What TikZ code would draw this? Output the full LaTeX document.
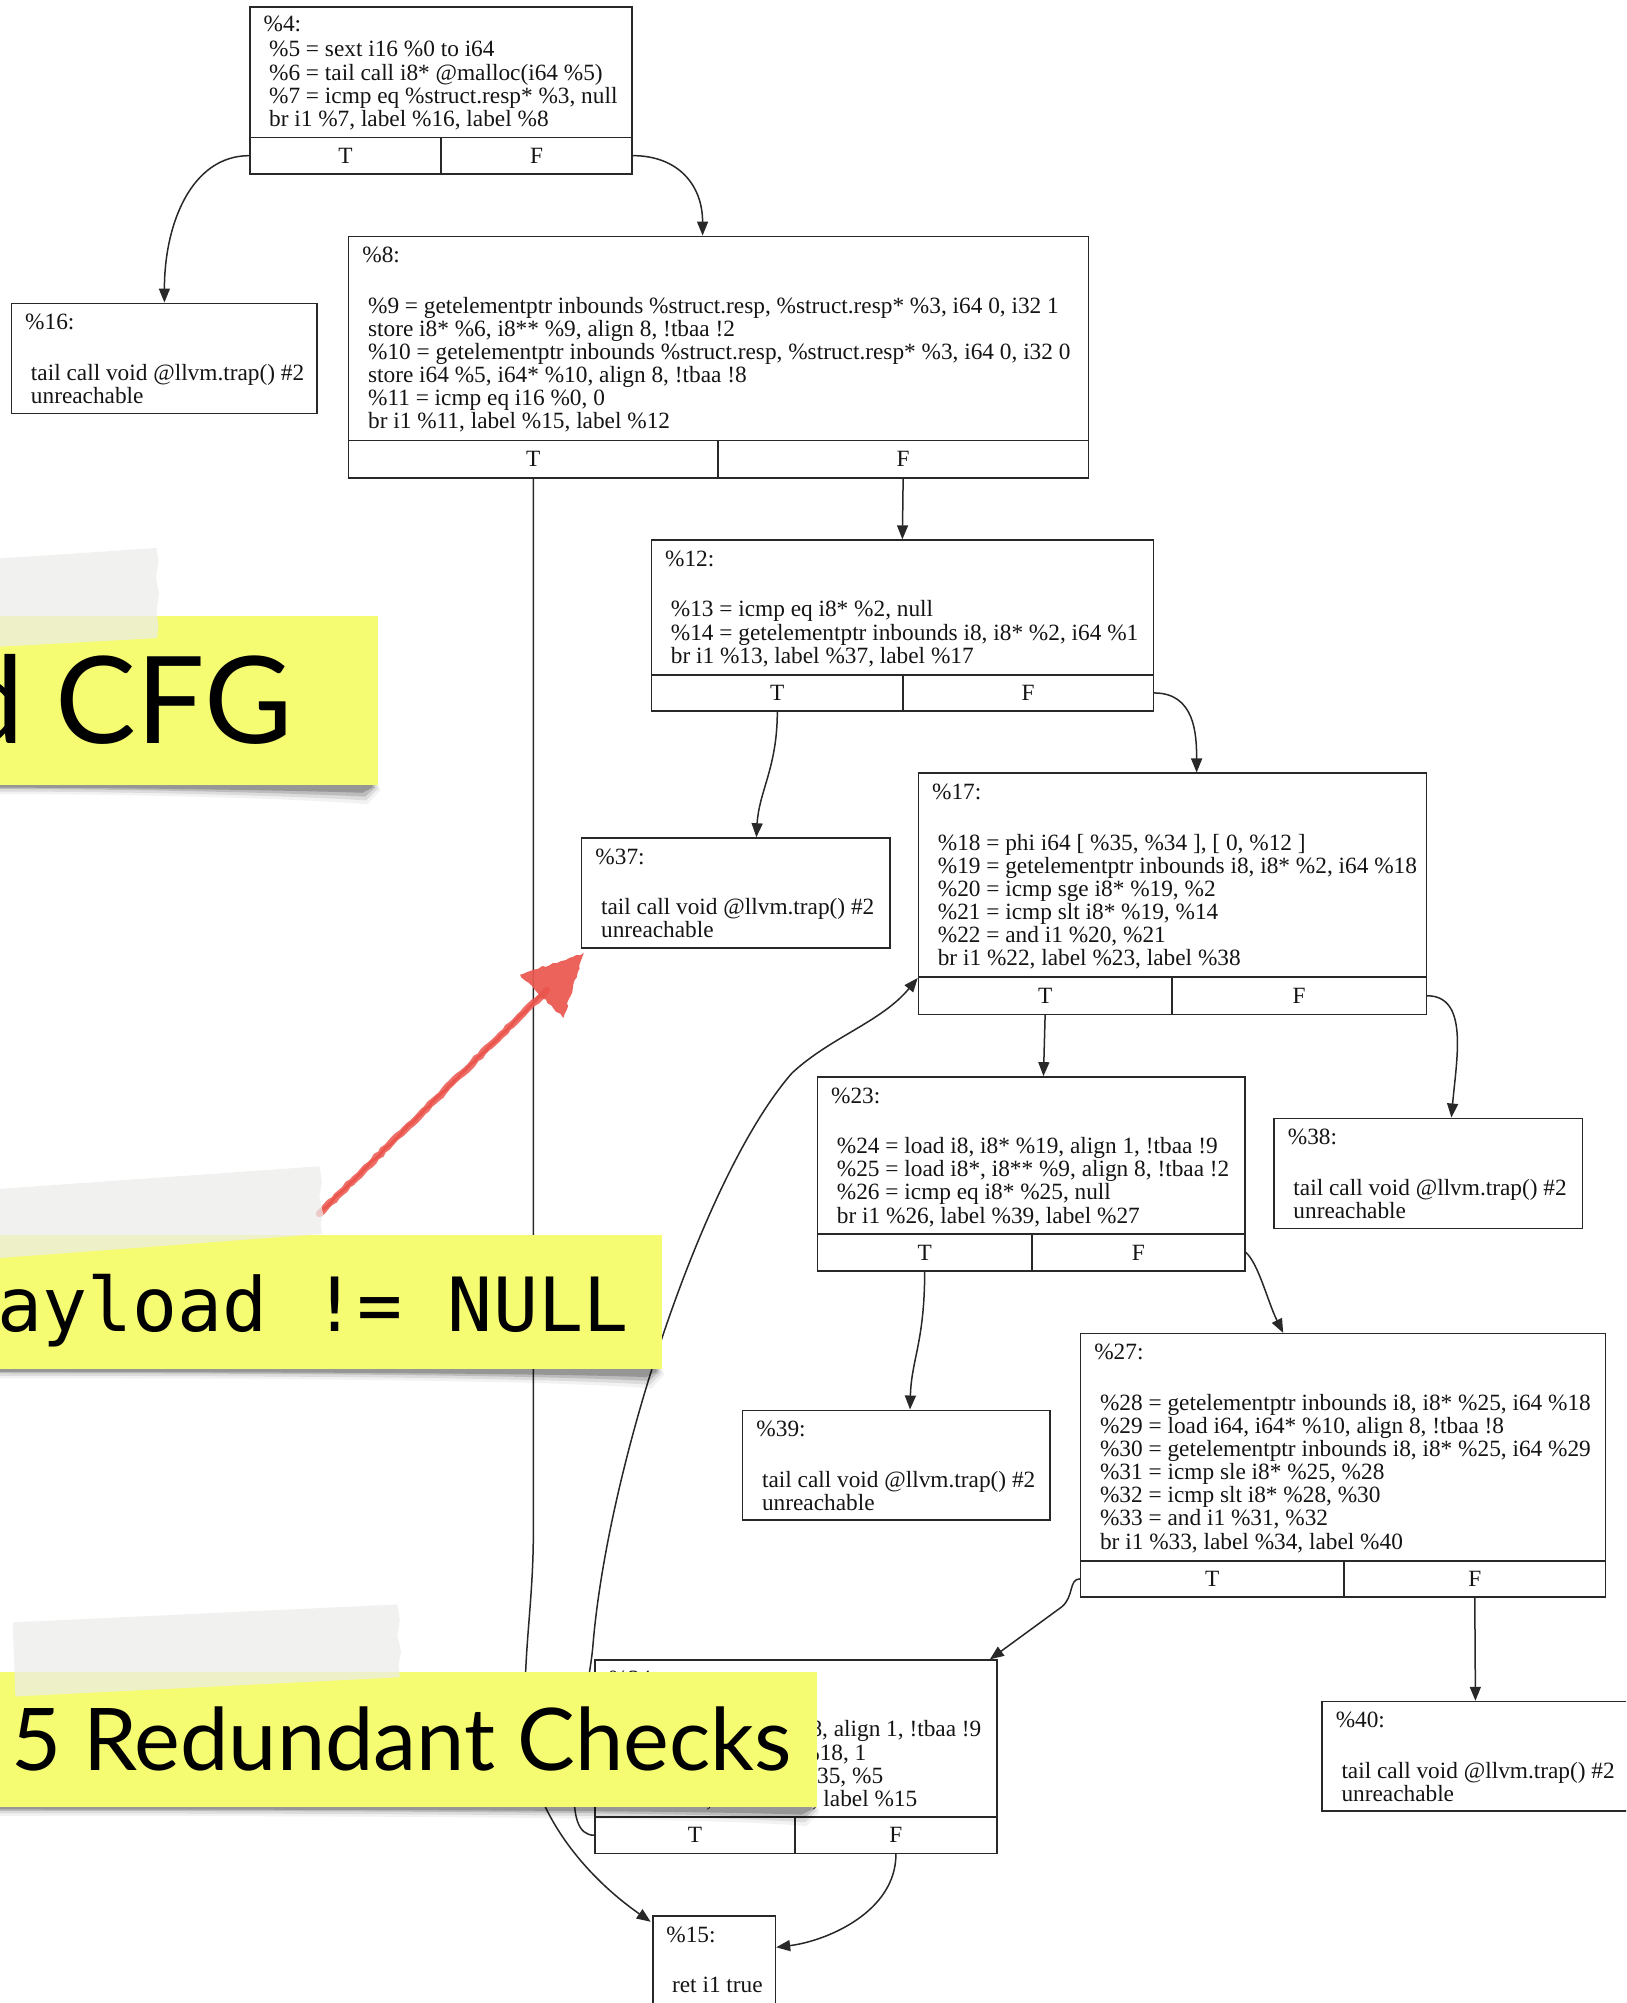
\documentclass[tikz,border=0pt]{standalone}
\usepackage{fontspec}
\setmainfont{Liberation Serif}
\newfontfamily\notesans{Lato}
\newfontfamily\notemono{DejaVu Sans Mono}
\usetikzlibrary{fit,calc,arrows.meta,decorations.pathmorphing}

\definecolor{inkline}{RGB}{40,40,40}
\definecolor{inktext}{RGB}{20,20,20}
\definecolor{stickyyellow}{RGB}{246,252,114}
\definecolor{tapewhite}{RGB}{236,236,234}
\definecolor{redpen}{RGB}{234,86,78}

\newcommand\cfgfont{\fontsize{23.3pt}{23.1pt}\selectfont}
\newcommand\fs{\rule{0pt}{18pt}}

% soft curled shadow under the lower edge of a sticky note: #1 right edge, #2 bottom edge
\newcommand\noteshadow[2]{%
  \fill[black, opacity=0.05] (-5,#2-4) -- (#1-1,#2-4) -- (#1+2,#2+4) -- (#1-8,#2+15) .. controls (#1-70,#2+10) and (#1-200,#2+7) .. (-5,#2+7) -- cycle;
  \fill[black, opacity=0.09] (-5,#2-3) -- (#1-2,#2-3) -- (#1,#2+3) -- (#1-9,#2+12) .. controls (#1-70,#2+8) and (#1-200,#2+5) .. (-5,#2+5) -- cycle;
  \fill[black, opacity=0.14] (-5,#2-2) -- (#1-3,#2-2) -- (#1-2,#2+2) -- (#1-10,#2+9) .. controls (#1-70,#2+6) and (#1-200,#2+3) .. (-5,#2+3) -- cycle;
  \fill[black, opacity=0.2] (-5,#2-1) -- (#1-4,#2-1) -- (#1-4,#2+2) -- (#1-12,#2+6) .. controls (#1-70,#2+4) and (#1-200,#2+2) .. (-5,#2+2) -- cycle;
}

\begin{document}
\begin{tikzpicture}[x=1.2773pt,y=-1.2773pt,
  blk/.style={draw=inkline, line width=1.5pt, fill=white, inner sep=0pt},
  tf/.style={font=\cfgfont, text=inktext, inner sep=0pt},
  irtext/.style={anchor=north west, inner sep=0pt, align=left, font=\cfgfont, text=inktext},
  flow/.style={draw=inkline, line width=1.5pt, -{Triangle[length=14pt,width=11pt]}},
  note/.style={fill=stickyyellow, inner sep=0pt},
  tapestrip/.style={fill=tapewhite, opacity=0.72},
]
\useasboundingbox (0,0) rectangle (1273,1568);
\begin{scope}
\clip (0,0) rectangle (1273,1568);
\fill[white] (0,0) rectangle (1273,1568);

% ---------------- basic blocks ----------------
% %4
\node[blk, fit={(195.7,5.5) (494.8,107.5)}] (b4) {};
\node[blk, fit={(195.7,107.5) (345.3,136.2)}] (b4T) {};
\node[blk, fit={(345.3,107.5) (494.8,136.2)}] (b4F) {};
\node[tf] (b4Tl) at (b4T) {T};
\node[tf] (b4Fl) at (b4F) {F};
\node[irtext] (b4h) at (206.2,10.7) {\fs\%4:};
\node[irtext] (b4b) at (210.5,30.3) {\fs\%5 = sext i16 \%0 to i64\\\%6 = tail call i8* @malloc(i64 \%5)\\\%7 = icmp eq \%struct.resp* \%3, null\\br i1 \%7, label \%16, label \%8};

% %16
\node[blk, fit={(9.1,237.4) (248.3,323.5)}] (b16) {};
\node[irtext] (b16h) at (19.6,243.6) {\fs\%16:};
\node[irtext] (b16b) at (24.1,283.3) {\fs tail call void @llvm.trap() \#2\\unreachable};

% %8
\node[blk, fit={(273,185) (852,345)}] (b8) {};
\node[blk, fit={(273,345) (562,374)}] (b8T) {};
\node[blk, fit={(562,345) (852,374)}] (b8F) {};
\node[tf] (b8Tl) at (b8T) {T};
\node[tf] (b8Fl) at (b8F) {F};
\node[irtext] (b8h) at (283.5,191.2) {\fs\%8:};
\node[irtext] (b8b) at (288,230.9) {\fs\%9 = getelementptr inbounds \%struct.resp, \%struct.resp* \%3, i64 0, i32 1\\store i8* \%6, i8** \%9, align 8, !tbaa !2\\\%10 = getelementptr inbounds \%struct.resp, \%struct.resp* \%3, i64 0, i32 0\\store i64 \%5, i64* \%10, align 8, !tbaa !8\\\%11 = icmp eq i16 \%0, 0\\br i1 \%11, label \%15, label \%12};

% %12
\node[blk, fit={(510,422.8) (902.8,528.5)}] (b12) {};
\node[blk, fit={(510,528.5) (707,556.4)}] (b12T) {};
\node[blk, fit={(707,528.5) (902.8,556.4)}] (b12F) {};
\node[tf] (b12Tl) at (b12T) {T};
\node[tf] (b12Fl) at (b12F) {F};
\node[irtext] (b12h) at (520.5,429) {\fs\%12:};
\node[irtext] (b12b) at (525,468.7) {\fs\%13 = icmp eq i8* \%2, null\\\%14 = getelementptr inbounds i8, i8* \%2, i64 \%1\\br i1 \%13, label \%37, label \%17};

% %37
\node[blk, fit={(455.4,656) (696.8,742.3)}] (b37) {};
\node[irtext] (b37h) at (466,662.2) {\fs\%37:};
\node[irtext] (b37b) at (470.4,701.9) {\fs tail call void @llvm.trap() \#2\\unreachable};

% %17
\node[blk, fit={(719,605.3) (1116.5,765)}] (b17) {};
\node[blk, fit={(719,765) (917.3,794)}] (b17T) {};
\node[blk, fit={(917.3,765) (1116.5,794)}] (b17F) {};
\node[tf] (b17Tl) at (b17T) {T};
\node[tf] (b17Fl) at (b17F) {F};
\node[irtext] (b17h) at (729.5,611.5) {\fs\%17:};
\node[irtext] (b17b) at (734,651.2) {\fs\%18 = phi i64 [ \%35, \%34 ], [ 0, \%12 ]\\\%19 = getelementptr inbounds i8, i8* \%2, i64 \%18\\\%20 = icmp sge i8* \%19, \%2\\\%21 = icmp slt i8* \%19, \%14\\\%22 = and i1 \%20, \%21\\br i1 \%22, label \%23, label \%38};

% %23
\node[blk, fit={(640,843) (974.7,966)}] (b23) {};
\node[blk, fit={(640,966) (807.7,994.8)}] (b23T) {};
\node[blk, fit={(807.7,966) (974.7,994.8)}] (b23F) {};
\node[tf] (b23Tl) at (b23T) {T};
\node[tf] (b23Fl) at (b23F) {F};
\node[irtext] (b23h) at (650.5,849.2) {\fs\%23:};
\node[irtext] (b23b) at (655,888.9) {\fs\%24 = load i8, i8* \%19, align 1, !tbaa !9\\\%25 = load i8*, i8** \%9, align 8, !tbaa !2\\\%26 = icmp eq i8* \%25, null\\br i1 \%26, label \%39, label \%27};

% %38
\node[blk, fit={(997.4,875.4) (1239,961.5)}] (b38) {};
\node[irtext] (b38h) at (1008,881.6) {\fs\%38:};
\node[irtext] (b38b) at (1012.4,921.3) {\fs tail call void @llvm.trap() \#2\\unreachable};

% %27
\node[blk, fit={(846,1044) (1257,1222)}] (b27) {};
\node[blk, fit={(846,1222) (1052,1250)}] (b27T) {};
\node[blk, fit={(1052,1222) (1257,1250)}] (b27F) {};
\node[tf] (b27Tl) at (b27T) {T};
\node[tf] (b27Fl) at (b27F) {F};
\node[irtext] (b27h) at (856.5,1050.2) {\fs\%27:};
\node[irtext] (b27b) at (861,1089.9) {\fs\%28 = getelementptr inbounds i8, i8* \%25, i64 \%18\\\%29 = load i64, i64* \%10, align 8, !tbaa !8\\\%30 = getelementptr inbounds i8, i8* \%25, i64 \%29\\\%31 = icmp sle i8* \%25, \%28\\\%32 = icmp slt i8* \%28, \%30\\\%33 = and i1 \%31, \%32\\br i1 \%33, label \%34, label \%40};

% %39
\node[blk, fit={(581.4,1104) (822,1190)}] (b39) {};
\node[irtext] (b39h) at (592,1110.2) {\fs\%39:};
\node[irtext] (b39b) at (596.4,1149.9) {\fs tail call void @llvm.trap() \#2\\unreachable};

% %40
\node[blk, fit={(1035,1332) (1275,1417.5)}] (b40) {};
\node[irtext] (b40h) at (1045.5,1338.2) {\fs\%40:};
\node[irtext] (b40b) at (1050,1377.9) {\fs tail call void @llvm.trap() \#2\\unreachable};

% %34
\node[blk, fit={(465.8,1299.6) (780.3,1422.3)}] (b34) {};
\node[blk, fit={(465.8,1422.3) (622.4,1450.9)}] (b34T) {};
\node[blk, fit={(622.4,1422.3) (780.3,1450.9)}] (b34F) {};
\node[tf] (b34Tl) at (b34T) {T};
\node[tf] (b34Fl) at (b34F) {F};
\node[irtext] (b34h) at (476.3,1305.8) {\fs\%34:};
\node[irtext] (b34b) at (480.8,1345.5) {\fs store i8 \%24, i8* \%28, align 1, !tbaa !9\\\%35 = add nsw i64 \%18, 1\\\%36 = icmp slt i64 \%35, \%5\\br i1 \%36, label \%17, label \%15};

% %15
\node[blk, fit={(511,1500) (607,1590)}] (b15) {};
\node[irtext] (b15h) at (521.5,1506.2) {\fs\%15:};
\node[irtext] (b15b) at (526,1545.9) {\fs ret i1 true};

% ---------------- control-flow edges ----------------
\draw[flow] (b4T.west) .. controls +(-45,0) and +(0,-62) .. (b16.north);
\draw[flow] (b4F.east) .. controls +(35,0) and +(0,-40) .. ($(b8.north)+(-12.5,0)$);
\draw[flow] (b8T.south) -- (417.5,1200) .. controls (417.5,1260) and (408,1300) .. (412,1360) .. controls (416,1420) and (460,1470) .. ($(b15.north west)+(-1,5)$);
\draw[flow] (b8F.south) -- (b12.north);
\draw[flow] (b12T.south) .. controls +(0,44) and +(2,-36) .. ($(b37.north)+(16,0)$);
\draw[flow] (b12F.east) .. controls +(32,0) and +(0,-30) .. ($(b17.north)+(19,0)$);
\draw[flow] (b17T.south) -- ($(b23.north)+(9.5,0)$);
\draw[flow] (b17F.east) .. controls +(33,0) and +(4,-46) .. ($(b38.north)+(18,0)$);
\draw[flow] (b23T.south) .. controls +(0,55) and +(1,-39) .. ($(b39.north)+(10.7,0)$);
\draw[flow] (b23F.east) .. controls +(10,9) and +(-12,-24) .. ($(b27.north)+(-47,0)$);
\draw[flow] (b27T.west) .. controls +(-9,0) and (841,1250) .. (831,1258) -- ($(b34.north east)+(-6,0)$);
\draw[flow] (b27F.south) -- (b40.north);
\draw[flow] (b34T.west) .. controls (452,1437) and (448,1420) .. (450,1395) .. controls (452,1350) and (461,1320) .. (464,1290) .. controls (475,1150) and (550,920) .. (620,840) .. controls (650,812) and (690,800) .. (b17.south west);
\draw[flow] (b34F.south) .. controls +(0,45) and +(40,-5) .. ($(b15.north east)+(0,25)$);

% ---------------- sticky notes ----------------
% note: "... CFG"
\noteshadow{295.7}{614.6}
\node[note, fit={(-5,482.3) (295.7,614.6)}] (n1) {};
\node[anchor=base east, inner sep=0pt, font=\notesans\fontsize{121pt}{121pt}\selectfont] (n1t) at (229,581.8) {d CFG};
\fill[tapestrip] (-5,437.5) -- (122.5,429) -- (124,440) -- (122,452) -- (124.5,465) -- (122.5,478) -- (124,490) -- (123,499.5) -- (-5,506.5) -- cycle;

% note: "... != NULL"
\noteshadow{518}{1072}
\node[note, fit={(-5,967) (518,1072)}] (n2) {};
\node[anchor=base west, inner sep=0pt, font=\notemono\fontsize{74.8pt}{74.8pt}\selectfont] (n2t) at (-2,1042) {ayload != NULL};

% hand-drawn red pointer
\coordinate (redfrom) at (250,950);
\coordinate (redto) at (428,775);
\draw[redpen, line width=7pt, line cap=round, opacity=0.85, decorate, decoration={random steps, segment length=5pt, amplitude=0.8pt}] (redfrom) -- (redto);
\draw[redpen, line width=3pt, line cap=round, decorate, decoration={random steps, segment length=4pt, amplitude=0.6pt}] ($(redfrom)+(1,-1)$) -- ($(redto)+(1,-1)$);
\fill[redpen, opacity=0.92, decorate, decoration={random steps, segment length=4pt, amplitude=1pt}] (457,746) -- (407,763) -- (441,797) -- cycle;

\fill[tapestrip] (-5,931) -- (250,913) -- (252,925) -- (250,937) -- (253,950) -- (251,958) -- (252,966) -- (-3,985) -- cycle;

% note: "... Redundant Checks"
\noteshadow{639.4}{1414.5}
\node[note, fit={(-5,1308.7) (639.4,1414.5)}] (n3) {};
\node[anchor=base west, inner sep=0pt, font=\notesans\fontsize{86.5pt}{86.5pt}\selectfont] (n3t) at (8.5,1385.8) {5 Redundant Checks};
\fill[tapestrip] (10,1270) -- (311,1256) -- (313,1268) -- (311,1280) -- (314,1293) -- (312,1303) -- (313,1313) -- (12,1328) -- cycle;

\end{scope}
\end{tikzpicture}
\end{document}
